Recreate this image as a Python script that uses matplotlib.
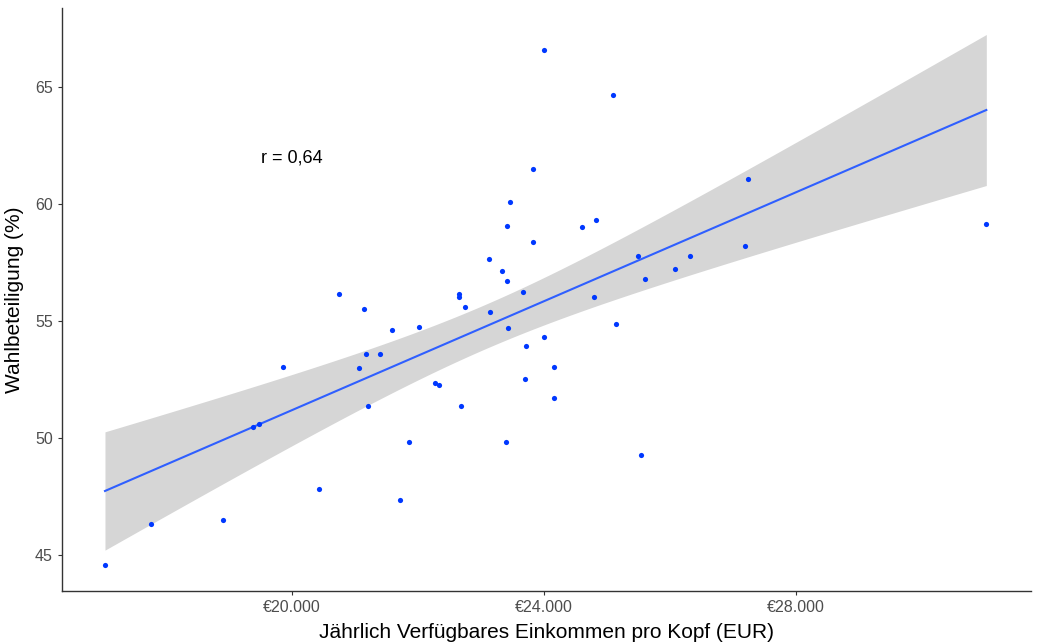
import numpy as np
import matplotlib
matplotlib.use("Agg")
import matplotlib.pyplot as plt
from matplotlib.ticker import FuncFormatter

plt.rcParams['font.family'] = ['Liberation Sans', 'DejaVu Sans']

income = [17032, 17757, 18910, 19376, 19481, 19862, 20433, 20751, 21138, 21058,
          21170, 21392, 21206, 21582, 21719, 21851, 22010, 22265, 22328, 22682,
          22656, 22656, 22751, 23138, 23428, 23397, 23671, 23719, 23693, 24004,
          24163, 24158, 24793, 25142, 25534, 23413, 25597, 24000, 25099, 23825,
          23455, 23407, 23830, 24597, 24819, 23131, 23338, 25486, 26074, 26322,
          27237, 27184, 31019]
turnout = [44.57, 46.34, 46.48, 50.47, 50.60, 53.05, 47.81, 56.17, 55.51, 52.98,
           53.58, 53.58, 51.35, 54.63, 47.36, 49.83, 54.76, 52.35, 52.28, 51.38,
           56.17, 56.01, 55.60, 55.38, 54.69, 49.83, 56.23, 53.92, 52.51, 54.30,
           53.02, 51.70, 56.01, 54.88, 49.29, 56.71, 56.79, 66.58, 64.65, 61.51,
           60.07, 59.06, 58.38, 59.00, 59.30, 57.66, 57.12, 57.76, 57.24, 57.76,
           61.07, 58.21, 59.15]
x_ticks = [20000, 24000, 28000]
y_ticks = [45, 50, 55, 60, 65]
r_label = "r = 0,64"

x = np.array(income, dtype=float)
y = np.array(turnout, dtype=float)
n = len(x)
b1, b0 = np.polyfit(x, y, 1)
xs = np.linspace(x.min(), x.max(), 200)
ys = b0 + b1 * xs
resid = y - (b0 + b1 * x)
s = np.sqrt(np.sum(resid ** 2) / (n - 2))
sxx = np.sum((x - x.mean()) ** 2)
se = s * np.sqrt(1.0 / n + (xs - x.mean()) ** 2 / sxx)
tcrit = 2.0076  # t(0.975, df=51)
lo, hi = ys - tcrit * se, ys + tcrit * se

fig = plt.figure(figsize=(10.37, 6.42), dpi=100)
ax = fig.add_axes([0.0598, 0.0794, 0.9344, 0.9081])

ax.fill_between(xs, lo, hi, color='#D6D6D6', linewidth=0, zorder=1)
ax.plot(xs, ys, color='#2F5FFF', linewidth=1.5, zorder=2)
ax.scatter(x, y, s=14, color='#0038FF', linewidths=0, zorder=3)

ax.text(20000, 61.97, r_label, ha='center', va='center', fontsize=13, color='black')

ax.set_xlim(16350, 31728)
ax.set_ylim(43.46, 68.38)
ax.set_xticks(x_ticks)
ax.set_yticks(y_ticks)
ax.xaxis.set_major_formatter(FuncFormatter(lambda v, p: "€{:,.0f}".format(v).replace(",", ".")))
ax.tick_params(axis='both', labelsize=11.5, colors='#333333', labelcolor='#4D4D4D', length=3, width=0.8)

for side in ['top', 'right']:
    ax.spines[side].set_visible(False)
for side in ['left', 'bottom']:
    ax.spines[side].set_color('#333333')
    ax.spines[side].set_linewidth(1.0)

ax.set_xlabel("Jährlich Verfügbares Einkommen pro Kopf (EUR)", fontsize=15, labelpad=6)
ax.set_ylabel("Wahlbeteiligung (%)", fontsize=15, labelpad=8)

fig.savefig("out.png", dpi=100)
